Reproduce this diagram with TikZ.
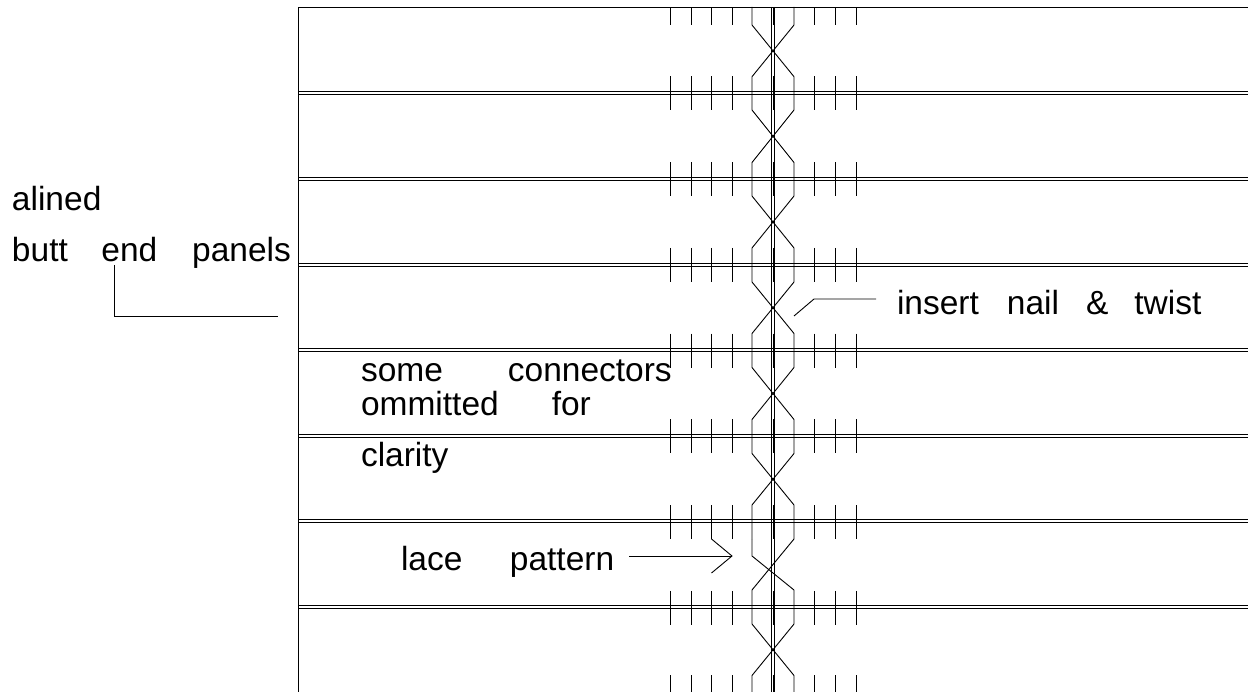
\documentclass[tikz,border=0pt]{standalone}
\usepackage{fontspec}
\setmainfont{Liberation Sans}
\tikzset{
  x=1pt,y=-1pt,
  wire/.style={line width=0.9pt,black},
  lbl/.style={inner sep=0pt,outer sep=0pt,anchor=base west,font=\fontsize{33.5}{36}\selectfont},
}
\newcommand{\gp}[1]{\hspace*{#1pt}}
\begin{document}
\begin{tikzpicture}
\useasboundingbox (0,0) rectangle (1248,692);
% left edge and top
\coordinate (tl) at (298,7);
\coordinate (tr) at (1248,7);
\coordinate (bl) at (298,692);
\draw[wire] (bl) -- (tl) -- (tr);
% panel joints
\foreach \y in {93,179,265,350,436,521,607}{
  \draw[wire] (298,\y-1.2) -- (1248,\y-1.2);
  \draw[wire] (298,\y+1.2) -- (1248,\y+1.2);
}
% centre pair
\draw[wire] (771.7,7) -- (771.7,692);
\draw[wire] (774.5,7) -- (774.5,692);
% ticks
\foreach \x in {670,691,711.5,732,773,814.5,835,856}{
  \draw[wire] (\x,8) -- (\x,25);
  \draw[wire] (\x,675) -- (\x,692);
  \foreach \y in {93.5,179.2,265,350.7,436.4,522,607.8}{
    \draw[wire] (\x,\y-17) -- (\x,\y+17);
  }
}
% lace
\foreach \a/\b in {752/794,794/752}{
  \draw[wire] (\a,7) -- (\a,25) -- (\b,76.7) -- (\b,110) -- (\a,162.5) -- (\a,196) -- (\b,248) -- (\b,282) -- (\a,333.5) -- (\a,367.5) -- (\b,419.5) -- (\b,453.5) -- (\a,505) -- (\a,539);
  \draw[wire] (\a,590) -- (\a,624) -- (\b,675.5) -- (\b,692);
}
\draw[wire] (752,539) -- (752,556) -- (794,590);
\draw[wire] (794,539) -- (752,590);
% labels
\node[lbl] (alined) at (12,210.7) {alined};
\node[lbl] (butt) at (12,262) {butt\gp{33.5}end\gp{35}panels};
\node[lbl] (nail) at (897,314.5) {insert\gp{28}nail\gp{27}\&\gp{26}twist};
\node[lbl] (some) at (361,381.5) {some\gp{65}connectors};
\node[lbl] (omm) at (361,415.5) {ommitted\gp{53}for};
\node[lbl] (clar) at (361,466) {clarity};
\node[lbl] (lace) at (401,570.5) {lace\gp{47.5}pattern};
% leaders
\coordinate (b1) at (114,265);
\coordinate (b2) at (114,316);
\coordinate (b3) at (278,316);
\draw[wire] (b1) -- (b2) -- (b3);
\coordinate (n1) at (876,299);
\coordinate (n2) at (814,299);
\coordinate (n3) at (794,316);
\draw[wire] (n1) -- (n2) -- (n3);
\coordinate (l1) at (629,556);
\coordinate (l2) at (732,556);
\coordinate (l3) at (711.5,539);
\coordinate (l4) at (711.5,573);
\draw[wire] (l1) -- (l2);
\draw[wire] (l3) -- (l2) -- (l4);
\end{tikzpicture}
\end{document}
